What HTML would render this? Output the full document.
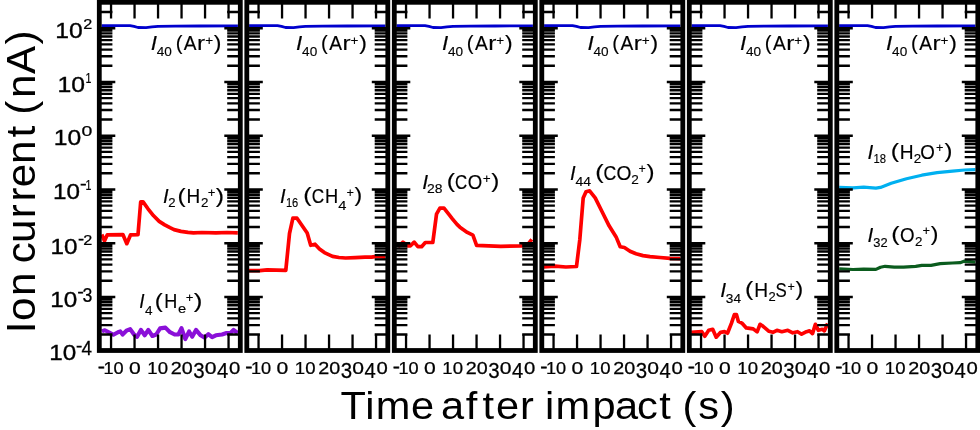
<!DOCTYPE html>
<html><head><meta charset="utf-8"><title>Ion current vs time after impact</title>
<style>html,body{margin:0;padding:0;background:#fff}svg{display:block}text{font-family:"Liberation Sans", Arial, sans-serif}</style></head>
<body>
<svg width="980" height="430" viewBox="0 0 980 430" font-family='"Liberation Sans", Arial, sans-serif' fill="#000">
<rect x="0" y="0" width="980" height="430" fill="#fff"/>
<polyline points="101.6,25.7 130.0,25.7 134.0,26.4 138.0,27.5 146.0,27.6 152.0,26.9 158.0,26.4 175.0,26.1 200.0,26.0 237.9,25.9" fill="none" stroke="#0000cd" stroke-width="2.8" stroke-linejoin="round" stroke-linecap="butt"/>
<polyline points="249.1,25.7 277.5,25.7 281.5,26.4 285.5,27.5 293.5,27.6 299.5,26.9 305.5,26.4 322.5,26.1 347.5,26.0 385.4,25.9" fill="none" stroke="#0000cd" stroke-width="2.8" stroke-linejoin="round" stroke-linecap="butt"/>
<polyline points="396.6,25.7 425.0,25.7 429.0,26.4 433.0,27.5 441.0,27.6 447.0,26.9 453.0,26.4 470.0,26.1 495.0,26.0 532.9,25.9" fill="none" stroke="#0000cd" stroke-width="2.8" stroke-linejoin="round" stroke-linecap="butt"/>
<polyline points="544.1,25.7 572.5,25.7 576.5,26.4 580.5,27.5 588.5,27.6 594.5,26.9 600.5,26.4 617.5,26.1 642.5,26.0 680.4,25.9" fill="none" stroke="#0000cd" stroke-width="2.8" stroke-linejoin="round" stroke-linecap="butt"/>
<polyline points="691.6,25.7 720.0,25.7 724.0,26.4 728.0,27.5 736.0,27.6 742.0,26.9 748.0,26.4 765.0,26.1 790.0,26.0 827.9,25.9" fill="none" stroke="#0000cd" stroke-width="2.8" stroke-linejoin="round" stroke-linecap="butt"/>
<polyline points="839.1,25.7 867.5,25.7 871.5,26.4 875.5,27.5 883.5,27.6 889.5,26.9 895.5,26.4 912.5,26.1 937.5,26.0 975.4,25.9" fill="none" stroke="#0000cd" stroke-width="2.8" stroke-linejoin="round" stroke-linecap="butt"/>
<polyline points="101.8,234.6 104.5,240.9 107.3,234.8 122.9,234.6 126.8,243.7 130.6,234.8 138.0,234.6 140.7,201.9 143.1,201.9 148.0,208.8 153.6,215.8 159.2,221.4 164.7,224.9 170.0,227.7 174.0,229.6 181.0,231.4 188.0,232.4 193.5,232.8 201.9,232.5 215.9,232.8 227.0,232.5 237.8,232.8" fill="none" stroke="#ff0000" stroke-width="3.7" stroke-linejoin="round" stroke-linecap="butt"/>
<polyline points="101.9,331.4 104.9,330.2 108.8,332.2 113.4,334.8 118.0,332.2 120.3,331.4 122.6,334.5 126.4,330.7 130.2,329.1 134.0,334.5 137.1,336.8 140.9,329.9 144.7,335.3 148.3,329.9 152.4,336.0 156.2,334.5 160.1,328.4 165.4,327.6 170.0,332.2 174.6,334.5 178.4,334.5 181.5,328.1 185.3,339.1 189.1,331.4 192.2,336.8 196.0,329.9 200.6,335.3 204.4,337.6 208.3,334.2 212.1,337.2 215.9,335.3 222.0,334.5 226.6,333.0 230.5,333.0 233.5,329.9 237.6,333.0" fill="none" stroke="#8a10d8" stroke-width="4.1" stroke-linejoin="round" stroke-linecap="butt"/>
<polyline points="248.6,270.7 259.7,270.7 267.2,269.8 285.8,270.3 289.5,233.5 292.9,218.2 297.0,218.2 307.2,233.0 310.7,245.3 315.0,244.2 319.5,249.0 324.4,252.6 332.5,256.4 339.0,257.5 345.6,258.0 355.3,257.7 365.0,257.2 371.6,257.2 376.5,256.4 385.4,257.2" fill="none" stroke="#ff0000" stroke-width="3.7" stroke-linejoin="round" stroke-linecap="butt"/>
<polyline points="396.5,243.0 399.3,245.8 403.0,242.1 407.7,245.8 410.5,245.8 414.2,242.1 417.9,246.7 421.6,246.7 425.3,242.5 432.8,242.5 436.5,214.2 439.9,208.2 444.0,208.2 449.5,215.1 452.4,218.8 457.0,224.4 459.9,227.2 467.3,232.4 472.9,235.2 476.6,245.4 500.8,246.3 521.4,245.8 527.5,244.9 531.8,239.4" fill="none" stroke="#ff0000" stroke-width="3.7" stroke-linejoin="round" stroke-linecap="butt"/>
<polyline points="543.5,267.0 554.7,266.2 565.9,267.0 576.5,266.5 579.8,239.7 583.2,197.9 586.0,191.7 589.6,190.9 595.2,197.9 602.1,211.8 609.1,225.8 616.1,236.9 620.2,246.7 624.4,247.5 630.0,251.2 636.0,253.8 643.0,255.6 650.0,256.6 660.0,257.5 670.0,258.3 680.3,258.6" fill="none" stroke="#ff0000" stroke-width="3.7" stroke-linejoin="round" stroke-linecap="butt"/>
<polyline points="691.2,332.3 701.8,331.7 704.8,336.2 708.7,330.3 712.7,329.3 716.2,337.2 720.6,332.3 724.5,331.7 727.5,333.2 731.4,323.4 734.4,314.5 736.4,314.5 738.4,321.4 742.3,323.4 746.3,327.9 753.2,328.9 757.1,331.9 760.1,324.3 763.1,326.3 769.0,331.3 772.9,332.3 776.9,330.3 781.8,331.7 787.8,330.3 792.7,332.8 797.6,331.7 801.6,334.2 806.5,331.7 809.5,330.9 812.5,333.6 815.4,324.3 818.4,330.3 822.3,329.3 824.3,330.9 827.6,323.4" fill="none" stroke="#ff0000" stroke-width="3.7" stroke-linejoin="round" stroke-linecap="butt"/>
<polyline points="839.2,187.4 853.0,187.9 863.7,187.1 875.9,188.2 880.5,187.4 891.2,183.3 906.5,178.7 921.8,175.2 937.1,172.6 952.5,171.1 964.7,170.0 975.3,169.7" fill="none" stroke="#00b0f0" stroke-width="3.2" stroke-linejoin="round" stroke-linecap="butt"/>
<polyline points="839.2,268.8 853.0,269.5 863.7,269.1 875.9,269.4 880.5,267.2 885.1,266.3 894.3,267.2 903.5,267.2 915.7,266.3 921.8,265.3 931.0,265.3 940.2,263.7 952.5,263.0 960.1,262.7 964.7,261.1 975.3,262.2" fill="none" stroke="#0b5c1e" stroke-width="3.2" stroke-linejoin="round" stroke-linecap="butt"/>
<path d="M99.30 350.75h16.00M240.30 350.75h-16.00M99.30 334.57h13.10M240.30 334.57h-13.10M99.30 325.10h13.10M240.30 325.10h-13.10M99.30 318.38h13.10M240.30 318.38h-13.10M99.30 313.17h13.10M240.30 313.17h-13.10M99.30 308.92h13.10M240.30 308.92h-13.10M99.30 305.32h13.10M240.30 305.32h-13.10M99.30 302.20h13.10M240.30 302.20h-13.10M99.30 299.45h13.10M240.30 299.45h-13.10M99.30 296.99h16.00M240.30 296.99h-16.00M99.30 280.81h13.10M240.30 280.81h-13.10M99.30 271.34h13.10M240.30 271.34h-13.10M99.30 264.63h13.10M240.30 264.63h-13.10M99.30 259.42h13.10M240.30 259.42h-13.10M99.30 255.16h13.10M240.30 255.16h-13.10M99.30 251.56h13.10M240.30 251.56h-13.10M99.30 248.44h13.10M240.30 248.44h-13.10M99.30 245.69h13.10M240.30 245.69h-13.10M99.30 243.23h16.00M240.30 243.23h-16.00M99.30 227.05h13.10M240.30 227.05h-13.10M99.30 217.58h13.10M240.30 217.58h-13.10M99.30 210.87h13.10M240.30 210.87h-13.10M99.30 205.66h13.10M240.30 205.66h-13.10M99.30 201.40h13.10M240.30 201.40h-13.10M99.30 197.80h13.10M240.30 197.80h-13.10M99.30 194.68h13.10M240.30 194.68h-13.10M99.30 191.93h13.10M240.30 191.93h-13.10M99.30 189.47h16.00M240.30 189.47h-16.00M99.30 173.29h13.10M240.30 173.29h-13.10M99.30 163.83h13.10M240.30 163.83h-13.10M99.30 157.11h13.10M240.30 157.11h-13.10M99.30 151.90h13.10M240.30 151.90h-13.10M99.30 147.64h13.10M240.30 147.64h-13.10M99.30 144.04h13.10M240.30 144.04h-13.10M99.30 140.93h13.10M240.30 140.93h-13.10M99.30 138.18h13.10M240.30 138.18h-13.10M99.30 135.72h16.00M240.30 135.72h-16.00M99.30 119.53h13.10M240.30 119.53h-13.10M99.30 110.07h13.10M240.30 110.07h-13.10M99.30 103.35h13.10M240.30 103.35h-13.10M99.30 98.14h13.10M240.30 98.14h-13.10M99.30 93.88h13.10M240.30 93.88h-13.10M99.30 90.29h13.10M240.30 90.29h-13.10M99.30 87.17h13.10M240.30 87.17h-13.10M99.30 84.42h13.10M240.30 84.42h-13.10M99.30 81.96h16.00M240.30 81.96h-16.00M99.30 65.77h13.10M240.30 65.77h-13.10M99.30 56.31h13.10M240.30 56.31h-13.10M99.30 49.59h13.10M240.30 49.59h-13.10M99.30 44.38h13.10M240.30 44.38h-13.10M99.30 40.13h13.10M240.30 40.13h-13.10M99.30 36.53h13.10M240.30 36.53h-13.10M99.30 33.41h13.10M240.30 33.41h-13.10M99.30 30.66h13.10M240.30 30.66h-13.10M99.30 28.20h16.00M240.30 28.20h-16.00M99.30 12.02h13.10M240.30 12.02h-13.10M99.30 2.55h13.10M240.30 2.55h-13.10" stroke="#000" stroke-width="2.4" fill="none"/>
<path d="M246.80 350.75h16.00M387.80 350.75h-16.00M246.80 334.57h13.10M387.80 334.57h-13.10M246.80 325.10h13.10M387.80 325.10h-13.10M246.80 318.38h13.10M387.80 318.38h-13.10M246.80 313.17h13.10M387.80 313.17h-13.10M246.80 308.92h13.10M387.80 308.92h-13.10M246.80 305.32h13.10M387.80 305.32h-13.10M246.80 302.20h13.10M387.80 302.20h-13.10M246.80 299.45h13.10M387.80 299.45h-13.10M246.80 296.99h16.00M387.80 296.99h-16.00M246.80 280.81h13.10M387.80 280.81h-13.10M246.80 271.34h13.10M387.80 271.34h-13.10M246.80 264.63h13.10M387.80 264.63h-13.10M246.80 259.42h13.10M387.80 259.42h-13.10M246.80 255.16h13.10M387.80 255.16h-13.10M246.80 251.56h13.10M387.80 251.56h-13.10M246.80 248.44h13.10M387.80 248.44h-13.10M246.80 245.69h13.10M387.80 245.69h-13.10M246.80 243.23h16.00M387.80 243.23h-16.00M246.80 227.05h13.10M387.80 227.05h-13.10M246.80 217.58h13.10M387.80 217.58h-13.10M246.80 210.87h13.10M387.80 210.87h-13.10M246.80 205.66h13.10M387.80 205.66h-13.10M246.80 201.40h13.10M387.80 201.40h-13.10M246.80 197.80h13.10M387.80 197.80h-13.10M246.80 194.68h13.10M387.80 194.68h-13.10M246.80 191.93h13.10M387.80 191.93h-13.10M246.80 189.47h16.00M387.80 189.47h-16.00M246.80 173.29h13.10M387.80 173.29h-13.10M246.80 163.83h13.10M387.80 163.83h-13.10M246.80 157.11h13.10M387.80 157.11h-13.10M246.80 151.90h13.10M387.80 151.90h-13.10M246.80 147.64h13.10M387.80 147.64h-13.10M246.80 144.04h13.10M387.80 144.04h-13.10M246.80 140.93h13.10M387.80 140.93h-13.10M246.80 138.18h13.10M387.80 138.18h-13.10M246.80 135.72h16.00M387.80 135.72h-16.00M246.80 119.53h13.10M387.80 119.53h-13.10M246.80 110.07h13.10M387.80 110.07h-13.10M246.80 103.35h13.10M387.80 103.35h-13.10M246.80 98.14h13.10M387.80 98.14h-13.10M246.80 93.88h13.10M387.80 93.88h-13.10M246.80 90.29h13.10M387.80 90.29h-13.10M246.80 87.17h13.10M387.80 87.17h-13.10M246.80 84.42h13.10M387.80 84.42h-13.10M246.80 81.96h16.00M387.80 81.96h-16.00M246.80 65.77h13.10M387.80 65.77h-13.10M246.80 56.31h13.10M387.80 56.31h-13.10M246.80 49.59h13.10M387.80 49.59h-13.10M246.80 44.38h13.10M387.80 44.38h-13.10M246.80 40.13h13.10M387.80 40.13h-13.10M246.80 36.53h13.10M387.80 36.53h-13.10M246.80 33.41h13.10M387.80 33.41h-13.10M246.80 30.66h13.10M387.80 30.66h-13.10M246.80 28.20h16.00M387.80 28.20h-16.00M246.80 12.02h13.10M387.80 12.02h-13.10M246.80 2.55h13.10M387.80 2.55h-13.10" stroke="#000" stroke-width="2.4" fill="none"/>
<path d="M394.30 350.75h16.00M535.30 350.75h-16.00M394.30 334.57h13.10M535.30 334.57h-13.10M394.30 325.10h13.10M535.30 325.10h-13.10M394.30 318.38h13.10M535.30 318.38h-13.10M394.30 313.17h13.10M535.30 313.17h-13.10M394.30 308.92h13.10M535.30 308.92h-13.10M394.30 305.32h13.10M535.30 305.32h-13.10M394.30 302.20h13.10M535.30 302.20h-13.10M394.30 299.45h13.10M535.30 299.45h-13.10M394.30 296.99h16.00M535.30 296.99h-16.00M394.30 280.81h13.10M535.30 280.81h-13.10M394.30 271.34h13.10M535.30 271.34h-13.10M394.30 264.63h13.10M535.30 264.63h-13.10M394.30 259.42h13.10M535.30 259.42h-13.10M394.30 255.16h13.10M535.30 255.16h-13.10M394.30 251.56h13.10M535.30 251.56h-13.10M394.30 248.44h13.10M535.30 248.44h-13.10M394.30 245.69h13.10M535.30 245.69h-13.10M394.30 243.23h16.00M535.30 243.23h-16.00M394.30 227.05h13.10M535.30 227.05h-13.10M394.30 217.58h13.10M535.30 217.58h-13.10M394.30 210.87h13.10M535.30 210.87h-13.10M394.30 205.66h13.10M535.30 205.66h-13.10M394.30 201.40h13.10M535.30 201.40h-13.10M394.30 197.80h13.10M535.30 197.80h-13.10M394.30 194.68h13.10M535.30 194.68h-13.10M394.30 191.93h13.10M535.30 191.93h-13.10M394.30 189.47h16.00M535.30 189.47h-16.00M394.30 173.29h13.10M535.30 173.29h-13.10M394.30 163.83h13.10M535.30 163.83h-13.10M394.30 157.11h13.10M535.30 157.11h-13.10M394.30 151.90h13.10M535.30 151.90h-13.10M394.30 147.64h13.10M535.30 147.64h-13.10M394.30 144.04h13.10M535.30 144.04h-13.10M394.30 140.93h13.10M535.30 140.93h-13.10M394.30 138.18h13.10M535.30 138.18h-13.10M394.30 135.72h16.00M535.30 135.72h-16.00M394.30 119.53h13.10M535.30 119.53h-13.10M394.30 110.07h13.10M535.30 110.07h-13.10M394.30 103.35h13.10M535.30 103.35h-13.10M394.30 98.14h13.10M535.30 98.14h-13.10M394.30 93.88h13.10M535.30 93.88h-13.10M394.30 90.29h13.10M535.30 90.29h-13.10M394.30 87.17h13.10M535.30 87.17h-13.10M394.30 84.42h13.10M535.30 84.42h-13.10M394.30 81.96h16.00M535.30 81.96h-16.00M394.30 65.77h13.10M535.30 65.77h-13.10M394.30 56.31h13.10M535.30 56.31h-13.10M394.30 49.59h13.10M535.30 49.59h-13.10M394.30 44.38h13.10M535.30 44.38h-13.10M394.30 40.13h13.10M535.30 40.13h-13.10M394.30 36.53h13.10M535.30 36.53h-13.10M394.30 33.41h13.10M535.30 33.41h-13.10M394.30 30.66h13.10M535.30 30.66h-13.10M394.30 28.20h16.00M535.30 28.20h-16.00M394.30 12.02h13.10M535.30 12.02h-13.10M394.30 2.55h13.10M535.30 2.55h-13.10" stroke="#000" stroke-width="2.4" fill="none"/>
<path d="M541.80 350.75h16.00M682.80 350.75h-16.00M541.80 334.57h13.10M682.80 334.57h-13.10M541.80 325.10h13.10M682.80 325.10h-13.10M541.80 318.38h13.10M682.80 318.38h-13.10M541.80 313.17h13.10M682.80 313.17h-13.10M541.80 308.92h13.10M682.80 308.92h-13.10M541.80 305.32h13.10M682.80 305.32h-13.10M541.80 302.20h13.10M682.80 302.20h-13.10M541.80 299.45h13.10M682.80 299.45h-13.10M541.80 296.99h16.00M682.80 296.99h-16.00M541.80 280.81h13.10M682.80 280.81h-13.10M541.80 271.34h13.10M682.80 271.34h-13.10M541.80 264.63h13.10M682.80 264.63h-13.10M541.80 259.42h13.10M682.80 259.42h-13.10M541.80 255.16h13.10M682.80 255.16h-13.10M541.80 251.56h13.10M682.80 251.56h-13.10M541.80 248.44h13.10M682.80 248.44h-13.10M541.80 245.69h13.10M682.80 245.69h-13.10M541.80 243.23h16.00M682.80 243.23h-16.00M541.80 227.05h13.10M682.80 227.05h-13.10M541.80 217.58h13.10M682.80 217.58h-13.10M541.80 210.87h13.10M682.80 210.87h-13.10M541.80 205.66h13.10M682.80 205.66h-13.10M541.80 201.40h13.10M682.80 201.40h-13.10M541.80 197.80h13.10M682.80 197.80h-13.10M541.80 194.68h13.10M682.80 194.68h-13.10M541.80 191.93h13.10M682.80 191.93h-13.10M541.80 189.47h16.00M682.80 189.47h-16.00M541.80 173.29h13.10M682.80 173.29h-13.10M541.80 163.83h13.10M682.80 163.83h-13.10M541.80 157.11h13.10M682.80 157.11h-13.10M541.80 151.90h13.10M682.80 151.90h-13.10M541.80 147.64h13.10M682.80 147.64h-13.10M541.80 144.04h13.10M682.80 144.04h-13.10M541.80 140.93h13.10M682.80 140.93h-13.10M541.80 138.18h13.10M682.80 138.18h-13.10M541.80 135.72h16.00M682.80 135.72h-16.00M541.80 119.53h13.10M682.80 119.53h-13.10M541.80 110.07h13.10M682.80 110.07h-13.10M541.80 103.35h13.10M682.80 103.35h-13.10M541.80 98.14h13.10M682.80 98.14h-13.10M541.80 93.88h13.10M682.80 93.88h-13.10M541.80 90.29h13.10M682.80 90.29h-13.10M541.80 87.17h13.10M682.80 87.17h-13.10M541.80 84.42h13.10M682.80 84.42h-13.10M541.80 81.96h16.00M682.80 81.96h-16.00M541.80 65.77h13.10M682.80 65.77h-13.10M541.80 56.31h13.10M682.80 56.31h-13.10M541.80 49.59h13.10M682.80 49.59h-13.10M541.80 44.38h13.10M682.80 44.38h-13.10M541.80 40.13h13.10M682.80 40.13h-13.10M541.80 36.53h13.10M682.80 36.53h-13.10M541.80 33.41h13.10M682.80 33.41h-13.10M541.80 30.66h13.10M682.80 30.66h-13.10M541.80 28.20h16.00M682.80 28.20h-16.00M541.80 12.02h13.10M682.80 12.02h-13.10M541.80 2.55h13.10M682.80 2.55h-13.10" stroke="#000" stroke-width="2.4" fill="none"/>
<path d="M689.30 350.75h16.00M830.30 350.75h-16.00M689.30 334.57h13.10M830.30 334.57h-13.10M689.30 325.10h13.10M830.30 325.10h-13.10M689.30 318.38h13.10M830.30 318.38h-13.10M689.30 313.17h13.10M830.30 313.17h-13.10M689.30 308.92h13.10M830.30 308.92h-13.10M689.30 305.32h13.10M830.30 305.32h-13.10M689.30 302.20h13.10M830.30 302.20h-13.10M689.30 299.45h13.10M830.30 299.45h-13.10M689.30 296.99h16.00M830.30 296.99h-16.00M689.30 280.81h13.10M830.30 280.81h-13.10M689.30 271.34h13.10M830.30 271.34h-13.10M689.30 264.63h13.10M830.30 264.63h-13.10M689.30 259.42h13.10M830.30 259.42h-13.10M689.30 255.16h13.10M830.30 255.16h-13.10M689.30 251.56h13.10M830.30 251.56h-13.10M689.30 248.44h13.10M830.30 248.44h-13.10M689.30 245.69h13.10M830.30 245.69h-13.10M689.30 243.23h16.00M830.30 243.23h-16.00M689.30 227.05h13.10M830.30 227.05h-13.10M689.30 217.58h13.10M830.30 217.58h-13.10M689.30 210.87h13.10M830.30 210.87h-13.10M689.30 205.66h13.10M830.30 205.66h-13.10M689.30 201.40h13.10M830.30 201.40h-13.10M689.30 197.80h13.10M830.30 197.80h-13.10M689.30 194.68h13.10M830.30 194.68h-13.10M689.30 191.93h13.10M830.30 191.93h-13.10M689.30 189.47h16.00M830.30 189.47h-16.00M689.30 173.29h13.10M830.30 173.29h-13.10M689.30 163.83h13.10M830.30 163.83h-13.10M689.30 157.11h13.10M830.30 157.11h-13.10M689.30 151.90h13.10M830.30 151.90h-13.10M689.30 147.64h13.10M830.30 147.64h-13.10M689.30 144.04h13.10M830.30 144.04h-13.10M689.30 140.93h13.10M830.30 140.93h-13.10M689.30 138.18h13.10M830.30 138.18h-13.10M689.30 135.72h16.00M830.30 135.72h-16.00M689.30 119.53h13.10M830.30 119.53h-13.10M689.30 110.07h13.10M830.30 110.07h-13.10M689.30 103.35h13.10M830.30 103.35h-13.10M689.30 98.14h13.10M830.30 98.14h-13.10M689.30 93.88h13.10M830.30 93.88h-13.10M689.30 90.29h13.10M830.30 90.29h-13.10M689.30 87.17h13.10M830.30 87.17h-13.10M689.30 84.42h13.10M830.30 84.42h-13.10M689.30 81.96h16.00M830.30 81.96h-16.00M689.30 65.77h13.10M830.30 65.77h-13.10M689.30 56.31h13.10M830.30 56.31h-13.10M689.30 49.59h13.10M830.30 49.59h-13.10M689.30 44.38h13.10M830.30 44.38h-13.10M689.30 40.13h13.10M830.30 40.13h-13.10M689.30 36.53h13.10M830.30 36.53h-13.10M689.30 33.41h13.10M830.30 33.41h-13.10M689.30 30.66h13.10M830.30 30.66h-13.10M689.30 28.20h16.00M830.30 28.20h-16.00M689.30 12.02h13.10M830.30 12.02h-13.10M689.30 2.55h13.10M830.30 2.55h-13.10" stroke="#000" stroke-width="2.4" fill="none"/>
<path d="M836.80 350.75h16.00M977.80 350.75h-16.00M836.80 334.57h13.10M977.80 334.57h-13.10M836.80 325.10h13.10M977.80 325.10h-13.10M836.80 318.38h13.10M977.80 318.38h-13.10M836.80 313.17h13.10M977.80 313.17h-13.10M836.80 308.92h13.10M977.80 308.92h-13.10M836.80 305.32h13.10M977.80 305.32h-13.10M836.80 302.20h13.10M977.80 302.20h-13.10M836.80 299.45h13.10M977.80 299.45h-13.10M836.80 296.99h16.00M977.80 296.99h-16.00M836.80 280.81h13.10M977.80 280.81h-13.10M836.80 271.34h13.10M977.80 271.34h-13.10M836.80 264.63h13.10M977.80 264.63h-13.10M836.80 259.42h13.10M977.80 259.42h-13.10M836.80 255.16h13.10M977.80 255.16h-13.10M836.80 251.56h13.10M977.80 251.56h-13.10M836.80 248.44h13.10M977.80 248.44h-13.10M836.80 245.69h13.10M977.80 245.69h-13.10M836.80 243.23h16.00M977.80 243.23h-16.00M836.80 227.05h13.10M977.80 227.05h-13.10M836.80 217.58h13.10M977.80 217.58h-13.10M836.80 210.87h13.10M977.80 210.87h-13.10M836.80 205.66h13.10M977.80 205.66h-13.10M836.80 201.40h13.10M977.80 201.40h-13.10M836.80 197.80h13.10M977.80 197.80h-13.10M836.80 194.68h13.10M977.80 194.68h-13.10M836.80 191.93h13.10M977.80 191.93h-13.10M836.80 189.47h16.00M977.80 189.47h-16.00M836.80 173.29h13.10M977.80 173.29h-13.10M836.80 163.83h13.10M977.80 163.83h-13.10M836.80 157.11h13.10M977.80 157.11h-13.10M836.80 151.90h13.10M977.80 151.90h-13.10M836.80 147.64h13.10M977.80 147.64h-13.10M836.80 144.04h13.10M977.80 144.04h-13.10M836.80 140.93h13.10M977.80 140.93h-13.10M836.80 138.18h13.10M977.80 138.18h-13.10M836.80 135.72h16.00M977.80 135.72h-16.00M836.80 119.53h13.10M977.80 119.53h-13.10M836.80 110.07h13.10M977.80 110.07h-13.10M836.80 103.35h13.10M977.80 103.35h-13.10M836.80 98.14h13.10M977.80 98.14h-13.10M836.80 93.88h13.10M977.80 93.88h-13.10M836.80 90.29h13.10M977.80 90.29h-13.10M836.80 87.17h13.10M977.80 87.17h-13.10M836.80 84.42h13.10M977.80 84.42h-13.10M836.80 81.96h16.00M977.80 81.96h-16.00M836.80 65.77h13.10M977.80 65.77h-13.10M836.80 56.31h13.10M977.80 56.31h-13.10M836.80 49.59h13.10M977.80 49.59h-13.10M836.80 44.38h13.10M977.80 44.38h-13.10M836.80 40.13h13.10M977.80 40.13h-13.10M836.80 36.53h13.10M977.80 36.53h-13.10M836.80 33.41h13.10M977.80 33.41h-13.10M836.80 30.66h13.10M977.80 30.66h-13.10M836.80 28.20h16.00M977.80 28.20h-16.00M836.80 12.02h13.10M977.80 12.02h-13.10M836.80 2.55h13.10M977.80 2.55h-13.10" stroke="#000" stroke-width="2.4" fill="none"/>
<path d="M111.05 2.30V18.6M111.05 350.50V334.6M134.55 2.30V18.6M134.55 350.50V334.6M158.05 2.30V18.6M158.05 350.50V334.6M181.55 2.30V18.6M181.55 350.50V334.6M205.05 2.30V18.6M205.05 350.50V334.6M228.55 2.30V18.6M228.55 350.50V334.6" stroke="#000" stroke-width="2.3" fill="none"/>
<path d="M258.55 2.30V18.6M258.55 350.50V334.6M282.05 2.30V18.6M282.05 350.50V334.6M305.55 2.30V18.6M305.55 350.50V334.6M329.05 2.30V18.6M329.05 350.50V334.6M352.55 2.30V18.6M352.55 350.50V334.6M376.05 2.30V18.6M376.05 350.50V334.6" stroke="#000" stroke-width="2.3" fill="none"/>
<path d="M406.05 2.30V18.6M406.05 350.50V334.6M429.55 2.30V18.6M429.55 350.50V334.6M453.05 2.30V18.6M453.05 350.50V334.6M476.55 2.30V18.6M476.55 350.50V334.6M500.05 2.30V18.6M500.05 350.50V334.6M523.55 2.30V18.6M523.55 350.50V334.6" stroke="#000" stroke-width="2.3" fill="none"/>
<path d="M553.55 2.30V18.6M553.55 350.50V334.6M577.05 2.30V18.6M577.05 350.50V334.6M600.55 2.30V18.6M600.55 350.50V334.6M624.05 2.30V18.6M624.05 350.50V334.6M647.55 2.30V18.6M647.55 350.50V334.6M671.05 2.30V18.6M671.05 350.50V334.6" stroke="#000" stroke-width="2.3" fill="none"/>
<path d="M701.05 2.30V18.6M701.05 350.50V334.6M724.55 2.30V18.6M724.55 350.50V334.6M748.05 2.30V18.6M748.05 350.50V334.6M771.55 2.30V18.6M771.55 350.50V334.6M795.05 2.30V18.6M795.05 350.50V334.6M818.55 2.30V18.6M818.55 350.50V334.6" stroke="#000" stroke-width="2.3" fill="none"/>
<path d="M848.55 2.30V18.6M848.55 350.50V334.6M872.05 2.30V18.6M872.05 350.50V334.6M895.55 2.30V18.6M895.55 350.50V334.6M919.05 2.30V18.6M919.05 350.50V334.6M942.55 2.30V18.6M942.55 350.50V334.6M966.05 2.30V18.6M966.05 350.50V334.6" stroke="#000" stroke-width="2.3" fill="none"/>
<rect x="99.30" y="2.30" width="141.00" height="348.20" fill="none" stroke="#000" stroke-width="4.8"/>
<rect x="246.80" y="2.30" width="141.00" height="348.20" fill="none" stroke="#000" stroke-width="4.8"/>
<rect x="394.30" y="2.30" width="141.00" height="348.20" fill="none" stroke="#000" stroke-width="4.8"/>
<rect x="541.80" y="2.30" width="141.00" height="348.20" fill="none" stroke="#000" stroke-width="4.8"/>
<rect x="689.30" y="2.30" width="141.00" height="348.20" fill="none" stroke="#000" stroke-width="4.8"/>
<rect x="836.80" y="2.30" width="141.00" height="348.20" fill="none" stroke="#000" stroke-width="4.8"/>
<text transform="translate(55.22 37.90) scale(1.1318 1)" font-size="21.80" stroke="#000" stroke-width="0.35">10</text>
<text transform="translate(83.28 28.60) scale(1.1202 1)" font-size="14.50" stroke="#000" stroke-width="0.25">2</text>
<text transform="translate(57.51 92.10) scale(1.1364 1)" font-size="21.80" stroke="#000" stroke-width="0.35">10</text>
<text transform="translate(85.59 82.80) scale(0.7358 1)" font-size="14.50" stroke="#000" stroke-width="0.25">1</text>
<text transform="translate(53.82 145.20) scale(1.1318 1)" font-size="21.80" stroke="#000" stroke-width="0.35">10</text>
<text transform="translate(81.44 136.40) scale(1.3417 1)" font-size="14.50" stroke="#000" stroke-width="0.25">0</text>
<text transform="translate(52.95 198.80) scale(1.1134 1)" font-size="21.80" stroke="#000" stroke-width="0.35">10</text>
<text transform="translate(80.30 188.65) scale(1.2429 1)" font-size="14.50" stroke="#000" stroke-width="0.70">-</text>
<text transform="translate(85.59 190.00) scale(0.7358 1)" font-size="14.50" stroke="#000" stroke-width="0.25">1</text>
<text transform="translate(50.55 253.80) scale(1.1134 1)" font-size="21.80" stroke="#000" stroke-width="0.35">10</text>
<text transform="translate(78.25 243.75) scale(1.1582 1)" font-size="14.50" stroke="#000" stroke-width="0.70">-</text>
<text transform="translate(83.28 245.00) scale(1.1202 1)" font-size="14.50" stroke="#000" stroke-width="0.25">2</text>
<text transform="translate(50.15 306.80) scale(1.1134 1)" font-size="21.80" stroke="#000" stroke-width="0.35">10</text>
<text transform="translate(77.74 296.65) scale(1.1864 1)" font-size="14.50" stroke="#000" stroke-width="0.70">-</text>
<text transform="translate(82.43 301.60) scale(0.9039 1)" font-size="19.60" stroke="#000" stroke-width="0.25">3</text>
<text transform="translate(49.15 360.20) scale(1.1134 1)" font-size="21.80" stroke="#000" stroke-width="0.35">10</text>
<text transform="translate(76.34 350.55) scale(1.1864 1)" font-size="14.50" stroke="#000" stroke-width="0.70">-</text>
<text transform="translate(81.57 355.10) scale(0.9718 1)" font-size="19.40" stroke="#000" stroke-width="0.25">4</text>
<text transform="translate(97.91 372.48) scale(1.2164 1)" font-size="16.50" stroke="#000" stroke-width="0.70">-</text>
<text transform="translate(103.42 373.90) scale(1.1002 1)" font-size="16.50" stroke="#000" stroke-width="0.25">10</text>
<text transform="translate(129.12 373.90) scale(1.2805 1)" font-size="16.50" stroke="#000" stroke-width="0.25">0</text>
<text transform="translate(147.34 373.90) scale(1.1245 1)" font-size="16.50" stroke="#000" stroke-width="0.25">10</text>
<text transform="translate(170.86 373.90) scale(1.1968 1)" font-size="16.50" stroke="#000" stroke-width="0.25">20</text>
<text transform="translate(193.37 377.80) scale(0.9385 1)" font-size="21.80" stroke="#000" stroke-width="0.25">3</text>
<text transform="translate(204.82 373.90) scale(1.2805 1)" font-size="16.50" stroke="#000" stroke-width="0.25">0</text>
<text transform="translate(216.99 377.70) scale(0.9285 1)" font-size="21.80" stroke="#000" stroke-width="0.25">4</text>
<text transform="translate(228.96 373.90) scale(1.2298 1)" font-size="16.50" stroke="#000" stroke-width="0.25">0</text>
<text transform="translate(245.41 372.48) scale(1.2164 1)" font-size="16.50" stroke="#000" stroke-width="0.70">-</text>
<text transform="translate(250.92 373.90) scale(1.1002 1)" font-size="16.50" stroke="#000" stroke-width="0.25">10</text>
<text transform="translate(276.62 373.90) scale(1.2805 1)" font-size="16.50" stroke="#000" stroke-width="0.25">0</text>
<text transform="translate(294.84 373.90) scale(1.1245 1)" font-size="16.50" stroke="#000" stroke-width="0.25">10</text>
<text transform="translate(318.36 373.90) scale(1.1968 1)" font-size="16.50" stroke="#000" stroke-width="0.25">20</text>
<text transform="translate(340.87 377.80) scale(0.9385 1)" font-size="21.80" stroke="#000" stroke-width="0.25">3</text>
<text transform="translate(352.32 373.90) scale(1.2805 1)" font-size="16.50" stroke="#000" stroke-width="0.25">0</text>
<text transform="translate(364.49 377.70) scale(0.9285 1)" font-size="21.80" stroke="#000" stroke-width="0.25">4</text>
<text transform="translate(376.46 373.90) scale(1.2298 1)" font-size="16.50" stroke="#000" stroke-width="0.25">0</text>
<text transform="translate(392.91 372.48) scale(1.2164 1)" font-size="16.50" stroke="#000" stroke-width="0.70">-</text>
<text transform="translate(398.42 373.90) scale(1.1002 1)" font-size="16.50" stroke="#000" stroke-width="0.25">10</text>
<text transform="translate(424.12 373.90) scale(1.2805 1)" font-size="16.50" stroke="#000" stroke-width="0.25">0</text>
<text transform="translate(442.34 373.90) scale(1.1245 1)" font-size="16.50" stroke="#000" stroke-width="0.25">10</text>
<text transform="translate(465.86 373.90) scale(1.1968 1)" font-size="16.50" stroke="#000" stroke-width="0.25">20</text>
<text transform="translate(488.37 377.80) scale(0.9385 1)" font-size="21.80" stroke="#000" stroke-width="0.25">3</text>
<text transform="translate(499.82 373.90) scale(1.2805 1)" font-size="16.50" stroke="#000" stroke-width="0.25">0</text>
<text transform="translate(511.99 377.70) scale(0.9285 1)" font-size="21.80" stroke="#000" stroke-width="0.25">4</text>
<text transform="translate(523.96 373.90) scale(1.2298 1)" font-size="16.50" stroke="#000" stroke-width="0.25">0</text>
<text transform="translate(540.41 372.48) scale(1.2164 1)" font-size="16.50" stroke="#000" stroke-width="0.70">-</text>
<text transform="translate(545.92 373.90) scale(1.1002 1)" font-size="16.50" stroke="#000" stroke-width="0.25">10</text>
<text transform="translate(571.62 373.90) scale(1.2805 1)" font-size="16.50" stroke="#000" stroke-width="0.25">0</text>
<text transform="translate(589.84 373.90) scale(1.1245 1)" font-size="16.50" stroke="#000" stroke-width="0.25">10</text>
<text transform="translate(613.36 373.90) scale(1.1968 1)" font-size="16.50" stroke="#000" stroke-width="0.25">20</text>
<text transform="translate(635.87 377.80) scale(0.9385 1)" font-size="21.80" stroke="#000" stroke-width="0.25">3</text>
<text transform="translate(647.32 373.90) scale(1.2805 1)" font-size="16.50" stroke="#000" stroke-width="0.25">0</text>
<text transform="translate(659.49 377.70) scale(0.9285 1)" font-size="21.80" stroke="#000" stroke-width="0.25">4</text>
<text transform="translate(671.46 373.90) scale(1.2298 1)" font-size="16.50" stroke="#000" stroke-width="0.25">0</text>
<text transform="translate(687.91 372.48) scale(1.2164 1)" font-size="16.50" stroke="#000" stroke-width="0.70">-</text>
<text transform="translate(693.42 373.90) scale(1.1002 1)" font-size="16.50" stroke="#000" stroke-width="0.25">10</text>
<text transform="translate(719.12 373.90) scale(1.2805 1)" font-size="16.50" stroke="#000" stroke-width="0.25">0</text>
<text transform="translate(737.34 373.90) scale(1.1245 1)" font-size="16.50" stroke="#000" stroke-width="0.25">10</text>
<text transform="translate(760.86 373.90) scale(1.1968 1)" font-size="16.50" stroke="#000" stroke-width="0.25">20</text>
<text transform="translate(783.37 377.80) scale(0.9385 1)" font-size="21.80" stroke="#000" stroke-width="0.25">3</text>
<text transform="translate(794.82 373.90) scale(1.2805 1)" font-size="16.50" stroke="#000" stroke-width="0.25">0</text>
<text transform="translate(806.99 377.70) scale(0.9285 1)" font-size="21.80" stroke="#000" stroke-width="0.25">4</text>
<text transform="translate(818.96 373.90) scale(1.2298 1)" font-size="16.50" stroke="#000" stroke-width="0.25">0</text>
<text transform="translate(835.41 372.48) scale(1.2164 1)" font-size="16.50" stroke="#000" stroke-width="0.70">-</text>
<text transform="translate(840.92 373.90) scale(1.1002 1)" font-size="16.50" stroke="#000" stroke-width="0.25">10</text>
<text transform="translate(866.62 373.90) scale(1.2805 1)" font-size="16.50" stroke="#000" stroke-width="0.25">0</text>
<text transform="translate(884.84 373.90) scale(1.1245 1)" font-size="16.50" stroke="#000" stroke-width="0.25">10</text>
<text transform="translate(908.36 373.90) scale(1.1968 1)" font-size="16.50" stroke="#000" stroke-width="0.25">20</text>
<text transform="translate(930.87 377.80) scale(0.9385 1)" font-size="21.80" stroke="#000" stroke-width="0.25">3</text>
<text transform="translate(942.32 373.90) scale(1.2805 1)" font-size="16.50" stroke="#000" stroke-width="0.25">0</text>
<text transform="translate(954.49 377.70) scale(0.9285 1)" font-size="21.80" stroke="#000" stroke-width="0.25">4</text>
<text transform="translate(966.46 373.90) scale(1.2298 1)" font-size="16.50" stroke="#000" stroke-width="0.25">0</text>
<text transform="translate(341.90 418.70) scale(1.0500 1)" x="-1.42 22.37 32.35 65.79" font-size="39.60">Time</text>
<text transform="translate(445.00 418.70) scale(1.0500 1)" x="-3.71 19.71 35.82 48.55 71.33" font-size="39.60">after</text>
<text transform="translate(547.10 418.70) scale(1.0500 1)" x="-2.01 7.97 43.21 64.58 85.64 106.73" font-size="39.60">impact</text>
<text transform="translate(684.50 418.70) scale(1.0500 1)" x="-1.90 13.17 34.57" font-size="39.60">(s)</text>
<text transform="translate(34.60 329.80) rotate(-90) scale(1.0500 1)" x="-3.35 8.35 32.22" font-size="40.20">Ion</text>
<text transform="translate(34.60 260.60) rotate(-90) scale(1.0500 1)" x="-2.56 16.85 40.45 56.26 69.81 92.08 117.31" font-size="40.20">current</text>
<text transform="translate(34.60 113.40) rotate(-90) scale(1.0500 1)" x="-1.39 14.65 37.55 65.67" font-size="40.20">(nA)</text>
<text transform="translate(150.81 49.80) scale(1.1519 1)" font-size="19.50" font-style="italic" stroke="#000" stroke-width="0.15">I</text>
<text transform="translate(156.79 55.50) scale(1.0085 1)" font-size="13.50" stroke="#000" stroke-width="0.15">40</text>
<text transform="translate(175.64 49.58) scale(0.9699 1)" font-size="21.00" stroke="#000" stroke-width="0.15">(</text>
<text transform="translate(183.86 49.80) scale(0.9822 1)" font-size="19.50" stroke="#000" stroke-width="0.15">A</text>
<text transform="translate(197.08 49.80) scale(1.2513 1)" font-size="19.50" stroke="#000" stroke-width="0.15">r</text>
<text transform="translate(205.14 45.17) scale(1.0450 1)" font-size="13.00" stroke="#000" stroke-width="0.15">+</text>
<text transform="translate(213.87 49.58) scale(1.0956 1)" font-size="21.00" stroke="#000" stroke-width="0.15">)</text>
<text transform="translate(296.11 49.80) scale(1.1519 1)" font-size="19.50" font-style="italic" stroke="#000" stroke-width="0.15">I</text>
<text transform="translate(302.09 55.50) scale(1.0085 1)" font-size="13.50" stroke="#000" stroke-width="0.15">40</text>
<text transform="translate(320.94 49.58) scale(0.9699 1)" font-size="21.00" stroke="#000" stroke-width="0.15">(</text>
<text transform="translate(329.16 49.80) scale(0.9822 1)" font-size="19.50" stroke="#000" stroke-width="0.15">A</text>
<text transform="translate(342.38 49.80) scale(1.2513 1)" font-size="19.50" stroke="#000" stroke-width="0.15">r</text>
<text transform="translate(350.44 45.17) scale(1.0450 1)" font-size="13.00" stroke="#000" stroke-width="0.15">+</text>
<text transform="translate(359.17 49.58) scale(1.0956 1)" font-size="21.00" stroke="#000" stroke-width="0.15">)</text>
<text transform="translate(441.91 49.80) scale(1.1519 1)" font-size="19.50" font-style="italic" stroke="#000" stroke-width="0.15">I</text>
<text transform="translate(447.89 55.50) scale(1.0085 1)" font-size="13.50" stroke="#000" stroke-width="0.15">40</text>
<text transform="translate(466.74 49.58) scale(0.9699 1)" font-size="21.00" stroke="#000" stroke-width="0.15">(</text>
<text transform="translate(474.96 49.80) scale(0.9822 1)" font-size="19.50" stroke="#000" stroke-width="0.15">A</text>
<text transform="translate(488.18 49.80) scale(1.2513 1)" font-size="19.50" stroke="#000" stroke-width="0.15">r</text>
<text transform="translate(496.24 45.17) scale(1.0450 1)" font-size="13.00" stroke="#000" stroke-width="0.15">+</text>
<text transform="translate(504.97 49.58) scale(1.0956 1)" font-size="21.00" stroke="#000" stroke-width="0.15">)</text>
<text transform="translate(587.41 49.80) scale(1.1519 1)" font-size="19.50" font-style="italic" stroke="#000" stroke-width="0.15">I</text>
<text transform="translate(593.39 55.50) scale(1.0085 1)" font-size="13.50" stroke="#000" stroke-width="0.15">40</text>
<text transform="translate(612.24 49.58) scale(0.9699 1)" font-size="21.00" stroke="#000" stroke-width="0.15">(</text>
<text transform="translate(620.46 49.80) scale(0.9822 1)" font-size="19.50" stroke="#000" stroke-width="0.15">A</text>
<text transform="translate(633.68 49.80) scale(1.2513 1)" font-size="19.50" stroke="#000" stroke-width="0.15">r</text>
<text transform="translate(641.74 45.17) scale(1.0450 1)" font-size="13.00" stroke="#000" stroke-width="0.15">+</text>
<text transform="translate(650.47 49.58) scale(1.0956 1)" font-size="21.00" stroke="#000" stroke-width="0.15">)</text>
<text transform="translate(739.91 49.80) scale(1.1519 1)" font-size="19.50" font-style="italic" stroke="#000" stroke-width="0.15">I</text>
<text transform="translate(745.89 55.50) scale(1.0085 1)" font-size="13.50" stroke="#000" stroke-width="0.15">40</text>
<text transform="translate(764.74 49.58) scale(0.9699 1)" font-size="21.00" stroke="#000" stroke-width="0.15">(</text>
<text transform="translate(772.96 49.80) scale(0.9822 1)" font-size="19.50" stroke="#000" stroke-width="0.15">A</text>
<text transform="translate(786.18 49.80) scale(1.2513 1)" font-size="19.50" stroke="#000" stroke-width="0.15">r</text>
<text transform="translate(794.24 45.17) scale(1.0450 1)" font-size="13.00" stroke="#000" stroke-width="0.15">+</text>
<text transform="translate(802.97 49.58) scale(1.0956 1)" font-size="21.00" stroke="#000" stroke-width="0.15">)</text>
<text transform="translate(886.11 49.80) scale(1.1519 1)" font-size="19.50" font-style="italic" stroke="#000" stroke-width="0.15">I</text>
<text transform="translate(892.09 55.50) scale(1.0085 1)" font-size="13.50" stroke="#000" stroke-width="0.15">40</text>
<text transform="translate(910.94 49.58) scale(0.9699 1)" font-size="21.00" stroke="#000" stroke-width="0.15">(</text>
<text transform="translate(919.16 49.80) scale(0.9822 1)" font-size="19.50" stroke="#000" stroke-width="0.15">A</text>
<text transform="translate(932.38 49.80) scale(1.2513 1)" font-size="19.50" stroke="#000" stroke-width="0.15">r</text>
<text transform="translate(940.44 45.17) scale(1.0450 1)" font-size="13.00" stroke="#000" stroke-width="0.15">+</text>
<text transform="translate(949.17 49.58) scale(1.0956 1)" font-size="21.00" stroke="#000" stroke-width="0.15">)</text>
<text transform="translate(163.00 202.50) scale(1.0390 1)" font-size="19.50" font-style="italic" stroke="#000" stroke-width="0.15">I</text>
<text transform="translate(168.14 206.80) scale(0.9756 1)" font-size="13.50" stroke="#000" stroke-width="0.15">2</text>
<text transform="translate(177.38 202.63) scale(1.1674 1)" font-size="21.00" stroke="#000" stroke-width="0.15">(</text>
<text transform="translate(186.54 202.50) scale(0.9731 1)" font-size="19.50" stroke="#000" stroke-width="0.15">H</text>
<text transform="translate(200.93 206.80) scale(0.9918 1)" font-size="13.50" stroke="#000" stroke-width="0.15">2</text>
<text transform="translate(207.66 196.92) scale(1.0133 1)" font-size="13.00" stroke="#000" stroke-width="0.15">+</text>
<text transform="translate(215.75 202.63) scale(1.1854 1)" font-size="21.00" stroke="#000" stroke-width="0.15">)</text>
<text transform="translate(139.15 307.70) scale(0.9712 1)" font-size="19.50" font-style="italic" stroke="#000" stroke-width="0.15">I</text>
<text transform="translate(144.89 314.50) scale(0.9996 1)" font-size="13.50" stroke="#000" stroke-width="0.15">4</text>
<text transform="translate(154.70 308.13) scale(1.1495 1)" font-size="21.00" stroke="#000" stroke-width="0.15">(</text>
<text transform="translate(164.32 307.70) scale(0.9272 1)" font-size="19.50" stroke="#000" stroke-width="0.15">H</text>
<text transform="translate(178.08 313.20) scale(1.0892 1)" font-size="13.50" stroke="#000" stroke-width="0.15">e</text>
<text transform="translate(185.86 302.22) scale(1.0133 1)" font-size="13.00" stroke="#000" stroke-width="0.15">+</text>
<text transform="translate(193.65 308.13) scale(1.2393 1)" font-size="21.00" stroke="#000" stroke-width="0.15">)</text>
<text transform="translate(279.90 202.70) scale(1.0390 1)" font-size="19.50" font-style="italic" stroke="#000" stroke-width="0.15">I</text>
<text transform="translate(285.96 207.00) scale(0.8212 1)" font-size="13.50" stroke="#000" stroke-width="0.15">16</text>
<text transform="translate(303.16 202.28) scale(1.1854 1)" font-size="21.00" stroke="#000" stroke-width="0.15">(</text>
<text transform="translate(311.83 202.70) scale(0.8826 1)" font-size="19.50" stroke="#000" stroke-width="0.15">C</text>
<text transform="translate(325.10 202.70) scale(0.9364 1)" font-size="19.50" stroke="#000" stroke-width="0.15">H</text>
<text transform="translate(338.26 209.50) scale(1.0878 1)" font-size="13.50" stroke="#000" stroke-width="0.15">4</text>
<text transform="translate(346.38 196.82) scale(0.9816 1)" font-size="13.00" stroke="#000" stroke-width="0.15">+</text>
<text transform="translate(354.57 202.28) scale(1.0956 1)" font-size="21.00" stroke="#000" stroke-width="0.15">)</text>
<text transform="translate(422.16 189.00) scale(1.0841 1)" font-size="19.50" font-style="italic" stroke="#000" stroke-width="0.15">I</text>
<text transform="translate(427.10 193.00) scale(1.0327 1)" font-size="13.50" stroke="#000" stroke-width="0.15">28</text>
<text transform="translate(446.66 188.48) scale(1.1854 1)" font-size="21.00" stroke="#000" stroke-width="0.15">(</text>
<text transform="translate(454.94 189.00) scale(0.8664 1)" font-size="19.50" stroke="#000" stroke-width="0.15">C</text>
<text transform="translate(467.72 189.00) scale(0.9541 1)" font-size="19.50" stroke="#000" stroke-width="0.15">O</text>
<text transform="translate(482.74 182.82) scale(1.0450 1)" font-size="13.00" stroke="#000" stroke-width="0.15">+</text>
<text transform="translate(491.36 188.48) scale(1.1495 1)" font-size="21.00" stroke="#000" stroke-width="0.15">)</text>
<text transform="translate(569.90 179.80) scale(1.0390 1)" font-size="19.50" font-style="italic" stroke="#000" stroke-width="0.15">I</text>
<text transform="translate(575.48 185.50) scale(1.0342 1)" font-size="13.50" stroke="#000" stroke-width="0.15">44</text>
<text transform="translate(595.13 179.33) scale(1.2033 1)" font-size="21.00" stroke="#000" stroke-width="0.15">(</text>
<text transform="translate(603.50 179.80) scale(0.9069 1)" font-size="19.50" stroke="#000" stroke-width="0.15">C</text>
<text transform="translate(616.39 179.80) scale(0.9841 1)" font-size="19.50" stroke="#000" stroke-width="0.15">O</text>
<text transform="translate(631.22 183.60) scale(1.0081 1)" font-size="13.50" stroke="#000" stroke-width="0.15">2</text>
<text transform="translate(638.49 173.32) scale(0.9658 1)" font-size="13.00" stroke="#000" stroke-width="0.15">+</text>
<text transform="translate(646.56 179.33) scale(1.1495 1)" font-size="21.00" stroke="#000" stroke-width="0.15">)</text>
<text transform="translate(720.16 296.70) scale(1.0841 1)" font-size="19.50" font-style="italic" stroke="#000" stroke-width="0.15">I</text>
<text transform="translate(725.78 302.50) scale(1.0137 1)" font-size="13.50" stroke="#000" stroke-width="0.15">34</text>
<text transform="translate(744.96 296.33) scale(1.1854 1)" font-size="21.00" stroke="#000" stroke-width="0.15">(</text>
<text transform="translate(754.33 296.70) scale(0.9823 1)" font-size="19.50" stroke="#000" stroke-width="0.15">H</text>
<text transform="translate(768.55 300.60) scale(0.9593 1)" font-size="13.50" stroke="#000" stroke-width="0.15">2</text>
<text transform="translate(775.53 296.70) scale(0.8641 1)" font-size="19.50" stroke="#000" stroke-width="0.15">S</text>
<text transform="translate(787.49 290.92) scale(0.9658 1)" font-size="13.00" stroke="#000" stroke-width="0.15">+</text>
<text transform="translate(795.57 296.33) scale(1.0956 1)" font-size="21.00" stroke="#000" stroke-width="0.15">)</text>
<text transform="translate(867.58 158.50) scale(1.0615 1)" font-size="19.50" font-style="italic" stroke="#000" stroke-width="0.15">I</text>
<text transform="translate(873.44 162.60) scale(0.8358 1)" font-size="13.50" stroke="#000" stroke-width="0.15">18</text>
<text transform="translate(890.86 157.78) scale(1.1854 1)" font-size="21.00" stroke="#000" stroke-width="0.15">(</text>
<text transform="translate(899.73 158.50) scale(0.9823 1)" font-size="19.50" stroke="#000" stroke-width="0.15">H</text>
<text transform="translate(913.63 162.60) scale(0.9918 1)" font-size="13.50" stroke="#000" stroke-width="0.15">2</text>
<text transform="translate(920.31 158.50) scale(0.9616 1)" font-size="19.50" stroke="#000" stroke-width="0.15">O</text>
<text transform="translate(935.88 152.32) scale(0.9816 1)" font-size="13.00" stroke="#000" stroke-width="0.15">+</text>
<text transform="translate(944.56 157.78) scale(1.1315 1)" font-size="21.00" stroke="#000" stroke-width="0.15">)</text>
<text transform="translate(867.58 241.60) scale(1.0615 1)" font-size="19.50" font-style="italic" stroke="#000" stroke-width="0.15">I</text>
<text transform="translate(873.31 247.00) scale(0.9549 1)" font-size="13.50" stroke="#000" stroke-width="0.15">32</text>
<text transform="translate(891.16 240.88) scale(1.1854 1)" font-size="21.00" stroke="#000" stroke-width="0.15">(</text>
<text transform="translate(899.91 241.60) scale(0.9616 1)" font-size="19.50" stroke="#000" stroke-width="0.15">O</text>
<text transform="translate(914.93 245.50) scale(0.9918 1)" font-size="13.50" stroke="#000" stroke-width="0.15">2</text>
<text transform="translate(922.47 235.22) scale(0.9975 1)" font-size="13.00" stroke="#000" stroke-width="0.15">+</text>
<text transform="translate(930.77 240.88) scale(1.0956 1)" font-size="21.00" stroke="#000" stroke-width="0.15">)</text>
</svg>
</body></html>
